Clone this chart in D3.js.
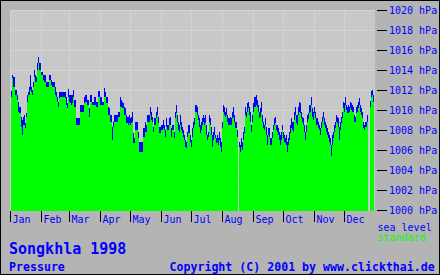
<!DOCTYPE html>
<html>
<head>
<meta charset="utf-8">
<script src="https://cdn.jsdelivr.net/npm/d3@7"></script>
<style>
  body { margin: 0; background: #b4b4b4; }
  svg { display: block; }
  text { font-family: "DejaVu Sans Mono", monospace; }
</style>
</head>
<body>
<div id="vis"></div>
<script>
var w = 440, h = 275;

// daily values, Jan 1 .. Dec 31 1998 (null = no data)
var seaLevel = [
  1011.9,1013.5,1013.3,1013.3,1012.0,1012.0,1011.5,1010.8,1010.3,1010.3,
  1009.3,1009.0,1009.3,1009.5,1008.7,1009.7,1011.5,1011.8,1012.3,1013.5,
  1012.3,1012.0,1012.8,1014.0,1013.5,1013.3,1014.7,1015.3,1014.7,1014.7,
  1013.8,1013.8,1013.5,1013.5,1013.5,1012.8,1012.8,1012.8,1013.5,1013.5,
  1013.0,1012.8,1012.8,1012.8,1012.3,1011.8,1011.3,1010.8,1011.8,1011.8,
  1011.8,1011.8,1011.8,1011.8,1011.8,1011.3,1010.7,1012.1,1011.5,1011.5,
  1011.5,1011.5,1012.0,1011.0,1011.0,1009.2,1009.2,1009.2,1009.2,1010.5,
  1010.5,1010.5,1010.5,1011.3,1011.5,1011.5,1011.0,1011.0,1010.2,1011.5,
  1011.5,1010.8,1010.8,1011.3,1011.3,1010.8,1010.8,1011.9,1011.9,1011.3,
  1011.3,1010.8,1010.8,1012.2,1011.8,1011.3,1011.3,1010.3,1010.2,1009.5,
  1009.5,1008.3,1008.8,1009.5,1009.5,1009.5,1009.5,1009.8,1009.8,1011.3,
  1011.0,1010.8,1010.7,1010.3,1010.2,1009.5,1009.3,1009.3,1009.5,1009.2,
  1009.3,1009.8,1007.7,1007.2,1008.8,1008.8,1008.8,1007.8,1006.8,1006.8,
  1006.8,1006.8,1008.2,1008.2,1008.8,1008.5,1009.5,1009.5,1009.5,1010.3,
  1009.8,1009.3,1008.3,1009.2,1009.2,1009.8,1010.3,1009.3,1008.3,1008.3,
  1008.5,1008.5,1009.0,1008.5,1008.0,1009.2,1008.5,1008.5,1009.2,1009.3,
  1008.2,1008.5,1008.5,1007.8,1009.8,1010.5,1009.5,1008.8,1008.5,1009.5,
  1008.8,1008.3,1008.0,1007.5,1007.0,1006.8,1007.8,1008.5,1008.5,1007.5,
  1007.0,1008.2,1008.8,1009.2,1010.5,1010.5,1010.3,1009.5,1009.2,1008.5,
  1008.8,1009.2,1009.5,1009.2,1009.5,1008.5,1007.5,1007.8,1009.5,1009.2,
  1008.3,1007.5,1007.8,1008.3,1007.5,1007.2,1007.5,1007.2,1007.8,1007.2,
  1006.8,1008.8,1010.5,1010.3,1009.8,1010.2,1009.5,1009.2,1009.2,1009.3,
  1009.2,1009.8,1010.3,1009.5,1008.8,1008.8,1008.0,null,1006.8,1006.5,
  1007.2,1006.8,1007.8,1008.3,1010.3,1009.8,1010.7,1010.8,1010.3,1009.8,
  1008.5,1009.5,1010.7,1011.3,1011.3,1011.5,1011.0,1010.5,1009.8,1010.2,
  1010.8,1009.5,1008.8,1008.5,1009.2,1008.3,1007.5,1008.2,1008.2,1007.2,
  1007.2,1007.8,1008.5,1009.2,1009.3,1008.5,1008.5,1008.2,1007.8,1007.5,
  1007.8,1008.5,1007.8,1007.5,1007.2,1007.5,1006.8,1007.2,1007.8,1008.5,
  1009.2,1008.8,1008.8,1009.8,1010.3,1009.5,1009.5,1010.3,1010.8,1010.7,
  1009.8,1009.3,1009.2,1008.5,1007.8,1008.5,1009.5,1009.7,1010.5,1010.5,
  1011.3,1010.2,1009.8,1010.3,1009.8,1009.2,1009.2,1008.8,1008.5,1008.2,
  1008.8,1009.3,1009.8,1009.2,1008.8,1008.5,1008.2,1007.8,1007.5,1007.2,
  1006.5,1007.5,1007.8,1008.5,1008.8,1009.5,1009.3,1009.2,1008.3,1008.8,
  1009.3,1009.8,1010.8,1010.7,1011.3,1010.5,1010.3,1010.5,1010.3,1010.8,
  1010.7,1010.5,1010.3,1009.5,1009.3,1010.3,1010.5,1010.8,1011.2,1010.5,
  1010.2,1009.8,1008.8,1008.5,1008.8,1008.8,1009.5,null,null,1010.9,
  1011.9,1012.0,1011.5,null,null
];

var standard = [
  1011.3,1013.2,1012.3,1012.3,1011.5,1011.5,1011.0,1009.8,1009.7,1009.7,
  1008.3,1007.5,1008.5,1008.5,1008.2,1009.3,1010.8,1011.5,1011.5,1012.0,
  1011.8,1011.5,1012.3,1013.3,1012.8,1012.8,1014.0,1014.7,1014.0,1014.0,
  1013.5,1013.5,1013.0,1012.8,1012.8,1012.3,1012.3,1012.3,1013.0,1013.0,
  1012.5,1012.3,1012.3,1012.3,1011.5,1011.3,1010.8,1010.3,1011.2,1011.3,
  1011.3,1011.3,1011.3,1011.3,1011.2,1010.5,1010.2,1011.3,1010.8,1010.7,
  1010.5,1010.7,1011.3,1010.3,1010.3,1008.5,1008.5,1008.5,1008.5,1009.8,
  1009.8,1009.8,1009.8,1010.7,1010.8,1010.8,1010.5,1010.5,1009.3,1010.8,
  1010.8,1010.5,1010.5,1010.5,1010.5,1010.3,1010.3,1011.3,1011.3,1010.5,
  1010.5,1010.5,1010.5,1011.3,1011.3,1010.7,1010.7,1009.5,1009.5,1008.8,
  1008.8,1007.0,1008.3,1008.8,1008.8,1008.8,1008.8,1009.3,1009.3,1010.3,
  1010.3,1010.2,1010.2,1009.5,1009.5,1008.7,1008.7,1008.5,1008.7,1008.5,
  1008.7,1008.8,1006.7,1006.7,1008.0,1008.0,1008.0,1007.2,1005.8,1005.8,
  1005.8,1005.8,1007.3,1007.3,1007.8,1007.8,1008.8,1008.8,1008.8,1009.5,
  1009.0,1008.8,1007.8,1008.5,1008.5,1009.2,1009.5,1008.7,1007.7,1007.7,
  1008.0,1008.0,1008.2,1008.0,1007.3,1008.3,1008.0,1008.0,1008.5,1008.5,
  1007.3,1008.0,1008.0,1007.2,1009.2,1009.7,1008.8,1008.0,1007.8,1008.5,
  1008.0,1007.7,1007.3,1007.0,1006.3,1006.2,1007.3,1007.7,1007.7,1006.8,
  1006.3,1007.3,1008.2,1008.5,1009.8,1009.8,1009.5,1009.0,1008.3,1007.7,
  1008.0,1008.5,1008.8,1008.5,1008.7,1007.5,1007.0,1007.3,1008.8,1008.5,
  1007.5,1006.3,1007.0,1007.5,1007.2,1006.7,1006.8,1006.5,1007.0,1006.3,
  1005.8,1008.2,1009.8,1009.5,1009.3,1009.5,1008.8,1008.5,1008.5,1008.5,
  1008.5,1009.2,1009.3,1008.8,1008.2,1008.2,1007.3,null,1006.3,1005.8,
  1006.3,1006.0,1007.0,1007.7,1009.5,1009.3,1009.8,1010.2,1009.5,1008.8,
  1007.8,1008.8,1009.8,1010.3,1010.3,1010.5,1010.3,1009.8,1009.2,1009.3,
  1009.8,1008.8,1008.2,1008.0,1008.5,1007.5,1006.5,1007.5,1007.3,1006.5,
  1006.5,1007.2,1008.0,1008.5,1008.7,1008.0,1007.8,1007.5,1007.0,1006.5,
  1007.0,1008.0,1007.2,1006.8,1006.7,1006.5,1005.8,1006.5,1007.0,1007.7,
  1008.2,1008.0,1007.8,1009.0,1009.5,1008.7,1008.5,1009.5,1009.8,1009.7,
  1009.2,1008.8,1008.5,1007.8,1007.0,1007.8,1008.8,1009.1,1009.7,1009.8,
  1010.5,1009.3,1009.0,1009.7,1009.2,1008.5,1008.5,1008.2,1008.0,1007.5,
  1008.2,1008.8,1009.2,1008.5,1008.2,1007.8,1007.5,1007.2,1006.8,1006.5,
  1005.4,1006.5,1007.2,1007.8,1008.2,1008.8,1008.7,1008.3,1007.0,1008.0,
  1008.7,1009.2,1010.2,1009.8,1010.5,1010.0,1009.7,1009.7,1009.8,1010.2,
  1010.0,1009.8,1009.8,1008.8,1008.8,1009.7,1009.8,1010.2,1010.5,1009.8,
  1009.5,1009.2,1008.2,1008.0,1008.3,1008.3,1008.8,null,null,1010.3,
  1011.3,1011.5,1010.8,null,null
];

var months = ["Jan","Feb","Mar","Apr","May","Jun","Jul","Aug","Sep","Oct","Nov","Dec"];
var monthStart = [0,31,59,90,120,151,181,212,243,273,304,334];
var pressureTicks = [1000,1002,1004,1006,1008,1010,1012,1014,1016,1018,1020];

var x = d3.scaleLinear().domain([0, 365]).range([11, 376]),
    y = d3.scaleLinear().domain([1000, 1020]).range([210, 10]),
    bottom = 211;

var svg = d3.select("#vis").append("svg")
    .attr("width", w)
    .attr("height", h)
    .attr("shape-rendering", "crispEdges");

svg.append("rect")
    .attr("width", w).attr("height", h)
    .attr("fill", "#b4b4b4");

// plot area
svg.append("rect")
    .attr("x", 10).attr("y", 10)
    .attr("width", 365).attr("height", bottom - 10)
    .attr("fill", "#c8c8c8");

svg.append("g").selectAll("line")
    .data(pressureTicks.slice(1))
  .enter().append("line")
    .attr("x1", 10).attr("x2", 375)
    .attr("y1", function(d) { return y(d) + 0.5; })
    .attr("y2", function(d) { return y(d) + 0.5; })
    .attr("stroke", "#d3d3d3");

svg.append("g").selectAll("line")
    .data(monthStart)
  .enter().append("line")
    .attr("x1", function(d) { return x(d) - 0.5; })
    .attr("x2", function(d) { return x(d) - 0.5; })
    .attr("y1", 10).attr("y2", bottom)
    .attr("stroke", "#d3d3d3");

// bars: sea level behind, standard in front
function bars(series, color) {
  svg.append("g").selectAll("rect")
      .data(series.map(function(v, i) { return {i: i, v: v}; })
                  .filter(function(d) { return d.v != null; }))
    .enter().append("rect")
      .attr("x", function(d) { return x(d.i); })
      .attr("y", function(d) { return Math.round(y(d.v)); })
      .attr("width", function(d) { return x(d.i + 1) - x(d.i); })
      .attr("height", function(d) { return bottom - Math.round(y(d.v)); })
      .attr("fill", color);
}
bars(seaLevel, "#0000ff");
bars(standard, "#00ff00");

// right axis
var yAxis = d3.axisRight(y)
    .tickValues(pressureTicks)
    .tickSize(10)
    .tickPadding(2)
    .tickFormat(function(d) { return d + " hPa"; });

var ga = svg.append("g")
    .attr("transform", "translate(377,0)")
    .call(yAxis);
ga.select(".domain").remove();
ga.selectAll("line").attr("stroke", "#000");
ga.selectAll("text")
    .attr("fill", "#0000ff")
    .style("font-size", "10px")
    .style("font-family", "'DejaVu Sans Mono', monospace");

// month ticks and labels
var gm = svg.append("g").selectAll("g")
    .data(monthStart)
  .enter().append("g")
    .attr("transform", function(d) { return "translate(" + (x(d) - 0.5) + ",0)"; });
gm.append("line")
    .attr("y1", bottom).attr("y2", 222)
    .attr("stroke", "#000");
gm.append("text")
    .attr("x", 2).attr("y", 223)
    .attr("fill", "#0000ff")
    .style("font-size", "10px")
    .text(function(d, i) { return months[i]; });

// legend
svg.append("text").attr("x", 377.5).attr("y", 231)
    .attr("fill", "#0000ff").style("font-size", "10px").text("sea level");
svg.append("text").attr("x", 377.5).attr("y", 241)
    .attr("fill", "#00ff00").style("font-size", "10px").text("standard");

// titles
svg.append("text").attr("x", 9).attr("y", 254)
    .attr("fill", "#0000ff").style("font-size", "15px").style("font-weight", "bold")
    .text("Songkhla 1998");
svg.append("text").attr("x", 9).attr("y", 271)
    .attr("fill", "#0000ff").style("font-size", "11.6px").style("font-weight", "bold")
    .text("Pressure");
svg.append("text").attr("x", 169.5).attr("y", 271)
    .attr("fill", "#0000ff").style("font-size", "11.6px").style("font-weight", "bold")
    .text("Copyright (C) 2001 by www.clickthai.de");

svg.append("rect")
    .attr("x", 0.5).attr("y", 0.5)
    .attr("width", w - 1).attr("height", h - 1)
    .attr("fill", "none")
    .attr("stroke", "#000");
</script>
</body>
</html>
